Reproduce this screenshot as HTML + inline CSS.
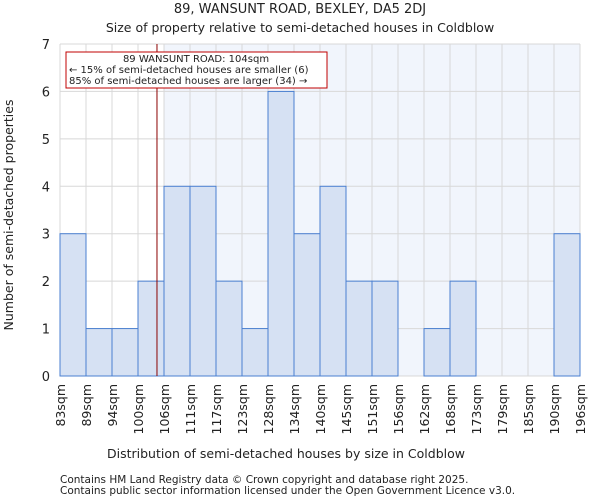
<!DOCTYPE html>
<html><head><meta charset="utf-8"><style>
body{margin:0;background:#fff;font-family:"DejaVu Sans","Liberation Sans",sans-serif;}
svg text{font-family:"DejaVu Sans","Liberation Sans",sans-serif;fill:#222;}
</style></head><body>
<svg id="c" width="600" height="500" xmlns="http://www.w3.org/2000/svg">
<text x="300" y="13" text-anchor="middle" font-size="13">89, WANSUNT ROAD, BEXLEY, DA5 2DJ</text>
<text x="300" y="32" text-anchor="middle" font-size="12.5">Size of property relative to semi-detached houses in Coldblow</text>
<g id="plot"></g>
<text x="286" y="458" text-anchor="middle" font-size="12.5">Distribution of semi-detached houses by size in Coldblow</text>
<text transform="translate(13,215) rotate(-90)" text-anchor="middle" font-size="12.5">Number of semi-detached properties</text>
<text x="60" y="483" font-size="10.5">Contains HM Land Registry data © Crown copyright and database right 2025.</text>
<text x="60" y="494" font-size="10.5">Contains public sector information licensed under the Open Government Licence v3.0.</text>
</svg>
<script>
const categories=["83sqm","89sqm","94sqm","100sqm","106sqm","111sqm","117sqm","123sqm","128sqm","134sqm","140sqm","145sqm","151sqm","156sqm","162sqm","168sqm","173sqm","179sqm","185sqm","190sqm","196sqm"];
const counts=[3,1,1,2,4,4,2,1,6,3,4,2,2,0,1,2,0,0,0,3];
const yTicks=[0,1,2,3,4,5,6,7];
const markerBin=3.73;
const NS="http://www.w3.org/2000/svg";
const X0=60,X1=580,Y0=376,Y1=44,N=counts.length;
const bw=(X1-X0)/N;
const xs=i=>X0+i*bw;
const ys=v=>Y0-(Y0-Y1)*v/7;
const g=document.getElementById('plot');
function mk(t,a){const e=document.createElementNS(NS,t);for(const k in a)e.setAttribute(k,a[k]);g.appendChild(e);return e;}
let e;
const shadeStart=xs(Math.ceil(markerBin));
e=mk('rect',{x:shadeStart,y:Y1,width:X1-shadeStart,height:Y0-Y1,fill:'#f1f5fc'});


for(let i=0;i<=N;i++){e=mk('line',{x1:xs(i),x2:xs(i),y1:Y1,y2:Y0,stroke:'#d8d8d8','stroke-width':1});

}
yTicks.forEach(v=>{e=mk('line',{x1:X0,x2:X1,y1:ys(v),y2:ys(v),stroke:'#d8d8d8','stroke-width':1});


e=mk('text',{x:X0-10,y:ys(v)+5,'text-anchor':'end','font-size':13});e.textContent=v;

});
counts.forEach((c,i)=>{if(c<=0)return;e=mk('rect',{x:xs(i),y:ys(c),width:bw,height:Y0-ys(c),fill:'#d6e1f3',stroke:'#4a7fd0','stroke-width':1});

});
categories.forEach((c,i)=>{e=mk('text',{transform:`translate(${xs(i)+5},384) rotate(-90)`,'text-anchor':'end','font-size':12.5});e.textContent=c;

});
e=mk('line',{x1:xs(markerBin),x2:xs(markerBin),y1:Y1,y2:Y0,stroke:'#8b0000','stroke-width':1});


e=mk('rect',{x:66,y:52,width:261,height:36,fill:'#fff',stroke:'#c00000','stroke-width':1});


e=mk('text',{x:196,y:62,'text-anchor':'middle','font-size':10});e.textContent="89 WANSUNT ROAD: 104sqm";


["← 15% of semi-detached houses are smaller (6)","85% of semi-detached houses are larger (34) →"].forEach((t,k)=>{
e=mk('text',{x:69,y:73+k*11,'font-size':10});e.textContent=t;

});
</script>
</body></html>
